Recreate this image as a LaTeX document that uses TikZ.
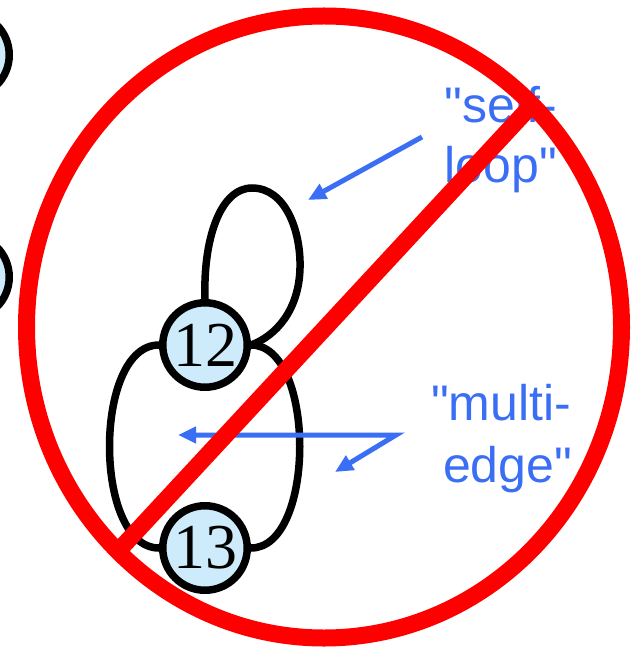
\documentclass[tikz,border=0pt]{standalone}
\usepackage{fontspec}
\setmainfont{Liberation Serif}
\newfontfamily\lblfont{Liberation Sans}
\usetikzlibrary{arrows.meta}
\definecolor{nodefill}{RGB}{205,235,251}
\definecolor{arrblue}{RGB}{58,110,245}
\definecolor{xred}{RGB}{255,0,0}
\begin{document}
\begin{tikzpicture}[x=1pt,y=-1pt,
  vtx/.style={circle,draw=black,line width=7.5pt,fill=nodefill,minimum size=84.5pt,inner sep=0pt,font=\fontsize{64}{64}\selectfont},
  gedge/.style={draw=black,line width=7.5pt},
  bluearr/.style={draw=arrblue,line width=5pt,line join=miter},
  btip/.style={-{Triangle[length=18pt,width=16pt]}},
  lbl/.style={text=arrblue,inner sep=0pt,anchor=base,font=\lblfont\fontsize{50}{60}\selectfont},
  redmark/.style={draw=xred,line width=17pt}]
\useasboundingbox (0,0) rectangle (634,652);
\clip (0,0) rectangle (634,652);
\fill[white] (0,0) rectangle (634,652);

% nodes
\node[vtx] (n12) at (205,345) {12};
\node[vtx] (n13) at (205,548) {13};
\node[vtx] (pa) at (-33,55) {};
\node[vtx] (pb) at (-33,277) {};

% edges
\draw[gedge] (n12.north) .. controls (203,240) and (220,188) .. (252,188)
  .. controls (286,188) and (301,232) .. (300,268)
  .. controls (299,310) and (276,336) .. (n12.east);
\draw[gedge] (n12.west) .. controls (93,345) and (93,548) .. (n13.west);
\draw[gedge] (n12.east) .. controls (316,345) and (316,548) .. (n13.east);

% labels
\node[lbl] (t1) at (501,123) {"self-};
\node[lbl] (t2) at (501,183) {loop"};
\node[lbl] (t3) at (501,420) {"multi-};
\node[lbl] (t4) at (507.5,482) {edge"};

% blue arrows
\coordinate (s1) at (422,137);
\coordinate (s2) at (308,200);
\coordinate (m0) at (396,435);
\coordinate (m1) at (178,435);
\coordinate (m2) at (335,472);
\draw[bluearr,btip] (s1) -- (s2);
\draw[bluearr,{Triangle[length=18pt,width=16pt]}-{Triangle[length=18pt,width=16pt]}] (m1) -- (m0) -- (m2);

% red "no" sign
\draw[redmark] (324,327) ellipse [x radius=297.5, y radius=311];
\draw[redmark] (121,548) -- (530,107);
\end{tikzpicture}
\end{document}
